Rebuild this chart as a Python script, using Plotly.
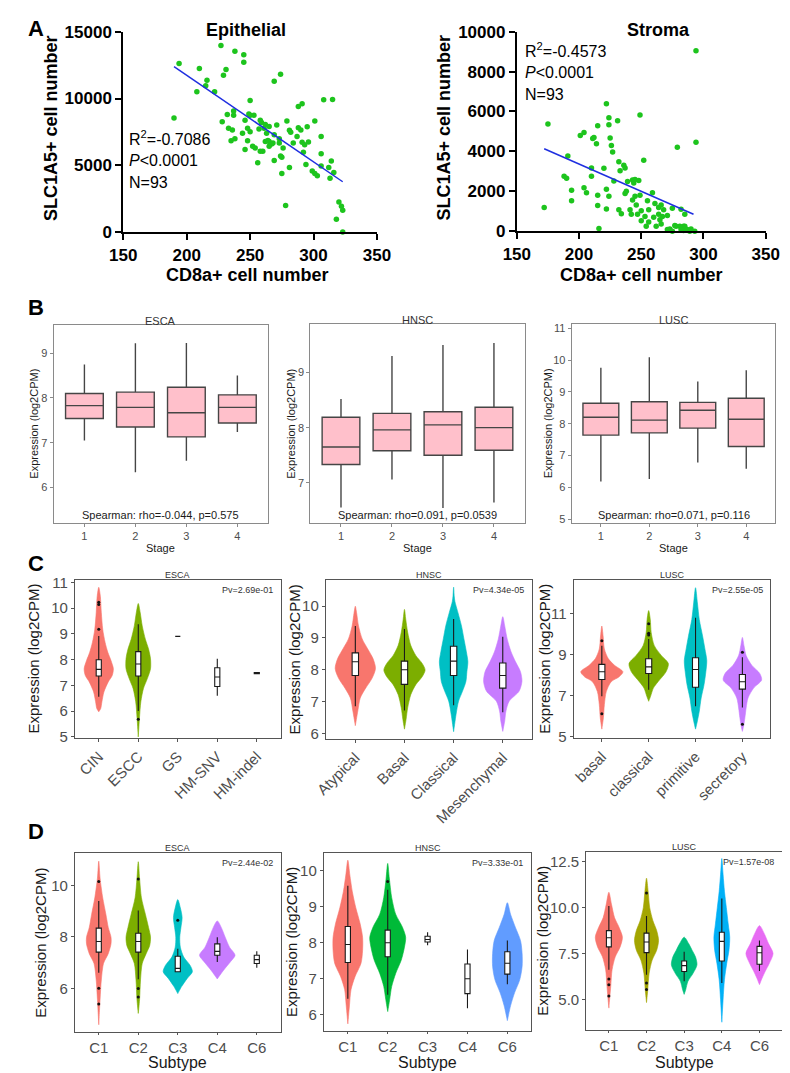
import plotly.graph_objects as go

W, H = 790, 1073
FONT = "Liberation Sans, Arial, sans-serif"

# ---------------- Panel A data ----------------
epi_cd8 = [194, 190, 210, 208, 216, 215, 222, 228, 229, 231, 227, 238, 245, 245, 232, 237, 237, 236, 235, 238,
           244, 246, 248, 249, 250, 250, 252, 254, 257, 258, 259, 261, 262, 263, 256, 262, 265, 264, 265, 267,
           268, 269, 274, 269, 271, 273, 273, 274, 275, 275, 278, 279, 281, 282, 284, 287, 288, 290, 288, 291,
           291, 293, 292, 294, 299, 301, 301, 303, 306, 306, 308, 306, 312, 314, 313, 315, 316, 318, 320, 322,
           323, 323, 246, 250, 260, 269, 276, 296, 253, 265, 258, 233, 295, 248, 281]
epi_slc = [12620, 8550, 12255, 10500, 11370, 10950, 10500, 8260, 11740, 12180, 13970, 13530, 13280, 12720, 8800,
           8750, 9070, 7650, 6840, 6990, 7400, 6180, 7770, 8850, 9850, 8750, 6420, 6300, 7720, 8380, 8210, 7770,
           8060, 7400, 5200, 6790, 6420, 6860, 6790, 6590, 6670, 11300, 11810, 5370, 8010, 6990, 6670, 5690, 5610,
           4390, 1990, 8310, 7620, 7480, 6670, 7160, 7820, 7650, 9410, 9610, 6720, 6540, 5980, 5070, 4580, 8310,
           4390, 4220, 7160, 5860, 9900, 4950, 4830, 5320, 4040, 9930, 4460, 960, 2250, 1940, 1640, 0, 8380, 7520,
           6050, 7280, 6300, 6740, 8750, 7900, 6050, 7770, 7890, 6840, 4830]
epi_fit_cd8 = [190, 323]
epi_fit_slc = [12380, 3770]
epi_yticks = [0, 5000, 10000, 15000]

str_cd8 = [175, 172, 188, 190, 191, 194, 194, 201, 204, 204, 206, 211, 212, 210, 210, 214, 215, 215, 215, 216,
           220, 222, 222, 222, 224, 224, 224, 225, 226, 227, 228, 231, 232, 234, 236, 237, 237, 238, 239, 241,
           242, 243, 244, 245, 245, 246, 247, 248, 249, 249, 250, 250, 253, 252, 256, 255, 256, 259, 260, 261,
           264, 264, 265, 266, 266, 267, 268, 271, 273, 275, 275, 277, 278, 279, 281, 282, 284, 284, 285, 285,
           287, 289, 290, 293, 294, 294, 232, 254, 262, 243, 271, 282, 233]
str_slc = [5377, 1180, 2750, 2650, 3770, 2050, 1520, 4790, 4950, 2180, 1930, 4640, 4700, 3160, 2750, 4380, 5280,
           1800, 1280, 130, 3150, 6390, 2100, 1110, 5690, 5330, 1750, 4670, 4300, 3970, 2510, 5540, 3480, 870,
           3310, 3160, 1890, 2000, 2490, 1070, 850, 2570, 2410, 2590, 1750, 1310, 850, 2540, 5820, 1800, 1020, 520,
           740, 3560, 460, 1520, 1070, 1930, 700, 1390, 850, 1180, 570, 360, 1310, 740, 1070, 790, 110, 0, 1150,
           280, 250, 4210, 250, 1100, 250, 30, 250, 850, 80, 0, 110, 0, 9050, 4460, 1070, 250, 250, 1560, 80, 80,
           3030]
str_fit_cd8 = [172, 292]
str_fit_slc = [4130, 850]
str_yticks = [0, 2000, 4000, 6000, 8000, 10000]
cd8_ticks = [150, 200, 250, 300, 350]

# ---------------- Panel B data (stage box plots) ----------------
stages = [1, 2, 3, 4]
B_ESCA = dict(low=[7.05, 6.34, 6.60, 7.24], q1=[7.54, 7.35, 7.13, 7.44], med=[7.83, 7.79, 7.67, 7.79],
              q3=[8.10, 8.13, 8.24, 8.07], high=[8.75, 9.22, 9.23, 8.50])
B_HNSC = dict(low=[6.55, 7.06, 6.54, 6.64], q1=[7.33, 7.58, 7.50, 7.59], med=[7.65, 7.96, 8.05, 8.00],
              q3=[8.19, 8.26, 8.29, 8.37], high=[8.52, 9.30, 9.50, 9.54])
B_LUSC = dict(low=[6.18, 6.26, 6.78, 6.58], q1=[7.64, 7.71, 7.86, 7.28], med=[8.20, 8.11, 8.42, 8.14],
              q3=[8.64, 8.69, 8.67, 8.80], high=[9.76, 10.09, 9.33, 9.68])
B_text = ["Spearman: rho=-0.044, p=0.575", "Spearman: rho=0.091, p=0.0539", "Spearman: rho=0.071, p=0.116"]

# ---------------- Panel C data (molecular subtypes) ----------------
C_ESCA_groups = ["CIN", "ESCC", "GS", "HM-SNV", "HM-indel"]
C_ESCA_box = dict(low=[6.55, 6.00, 8.90, 6.59, 7.44], q1=[7.36, 7.36, 8.90, 6.95, 7.45],
                  med=[7.62, 7.83, 8.90, 7.32, 7.47], q3=[7.99, 8.31, 8.90, 7.68, 7.50],
                  high=[8.92, 9.37, 8.90, 8.03, 7.50])
C_ESCA_violin = {
    "CIN": ([10.81, 10.46, 9.82, 9.18, 8.67, 8.28, 7.96, 7.64, 7.38, 7.13, 6.74, 6.36, 6.10, 5.97],
            [0, .04, .065, .10, .16, .23, .31, .37, .34, .24, .13, .08, .05, 0]),
    "ESCC": ([10.18, 9.82, 9.31, 8.79, 8.41, 8.03, 7.64, 7.26, 6.87, 6.36, 5.72, 4.99],
             [0, .05, .10, .18, .26, .31, .31, .23, .13, .065, .03, 0]),
}
C_ESCA_out = {"CIN": [9.18, 10.14, 10.23], "ESCC": [5.68]}

C_HNSC_groups = ["Atypical", "Basal", "Classical", "Mesenchymal"]
C_HNSC_box = dict(low=[6.85, 6.72, 6.88, 6.66], q1=[7.82, 7.54, 7.82, 7.42], med=[8.25, 8.00, 8.27, 7.82],
                  q3=[8.53, 8.27, 8.74, 8.21], high=[9.38, 9.28, 9.60, 9.04])
C_HNSC_violin = {
    "Atypical": ([10.0, 9.79, 9.38, 8.97, 8.66, 8.35, 8.04, 7.73, 7.42, 7.11, 6.70, 6.24],
                 [0, .026, .065, .14, .25, .36, .41, .34, .21, .10, .05, 0]),
    "Basal": ([9.90, 9.59, 9.18, 8.76, 8.45, 8.20, 7.99, 7.78, 7.53, 7.22, 6.80, 6.44, 6.13],
              [0, .026, .065, .13, .23, .36, .42, .36, .23, .13, .065, .033, 0]),
    "Classical": ([10.60, 10.31, 10.15, 9.79, 9.38, 8.97, 8.56, 8.25, 7.94, 7.63, 7.32, 7.01, 6.60, 6.05],
                  [0, .013, .026, .09, .16, .21, .26, .29, .27, .25, .18, .10, .05, 0]),
    "Mesenchymal": ([9.67, 9.38, 8.97, 8.56, 8.25, 7.94, 7.63, 7.32, 7.01, 6.70, 6.39, 6.06],
                    [0, .04, .09, .17, .26, .36, .39, .33, .13, .065, .04, 0]),
}
C_HNSC_out = {}

C_LUSC_groups = ["basal", "classical", "primitive", "secretory"]
C_LUSC_box = dict(low=[6.97, 7.29, 6.49, 6.43], q1=[7.79, 8.08, 7.41, 7.32], med=[8.16, 8.40, 8.27, 7.68],
                  q3=[8.52, 8.79, 8.84, 8.03], high=[9.43, 9.75, 10.78, 8.87])
C_LUSC_violin = {
    "basal": ([10.38, 9.90, 9.27, 8.79, 8.48, 8.16, 7.92, 7.68, 7.20, 6.57, 5.94, 5.38],
              [0, .027, .054, .14, .27, .45, .37, .20, .095, .054, .034, 0]),
    "classical": ([11.13, 10.70, 10.06, 9.43, 8.95, 8.56, 8.16, 7.68, 7.37, 6.97, 6.73],
                  [0, .034, .054, .12, .27, .42, .37, .20, .10, .04, 0]),
    "primitive": ([12.24, 11.50, 10.70, 9.90, 9.27, 8.71, 8.16, 7.52, 6.89, 6.25, 5.78, 5.38],
                  [0, .04, .08, .15, .20, .24, .22, .18, .12, .08, .04, 0]),
    "secretory": ([9.83, 9.43, 8.95, 8.48, 8.08, 7.76, 7.37, 6.89, 6.41, 5.94, 5.54, 5.27],
                  [0, .034, .08, .20, .37, .41, .24, .12, .08, .054, .027, 0]),
}
C_LUSC_out = {"basal": [9.67, 6.13], "classical": [10.49, 10.03, 9.95], "secretory": [9.11, 5.62]}
C_pv = ["Pv=2.69e-01", "Pv=4.34e-05", "Pv=2.55e-05"]

# ---------------- Panel D data (immune subtypes) ----------------
D_groups = ["C1", "C2", "C3", "C4", "C6"]
D_ESCA_box = dict(low=[6.61, 6.36, 6.63, 7.03, 6.80], q1=[7.41, 7.41, 6.65, 7.29, 6.97],
                  med=[7.82, 7.82, 6.78, 7.44, 7.12], q3=[8.34, 8.14, 7.25, 7.73, 7.29],
                  high=[9.39, 9.03, 7.54, 7.99, 7.44])
D_ESCA_violin = {
    "C1": ([10.94, 10.28, 9.52, 8.88, 8.37, 7.99, 7.73, 7.35, 6.97, 6.33, 5.57, 4.59],
           [0, .033, .10, .18, .24, .31, .31, .24, .12, .065, .033, 0]),
    "C2": ([10.92, 10.28, 9.52, 8.88, 8.37, 7.99, 7.67, 7.35, 6.97, 6.33, 5.57, 5.03],
           [0, .033, .08, .18, .26, .31, .29, .20, .10, .057, .033, 0]),
    "C3": ([9.45, 9.13, 8.75, 8.37, 7.99, 7.60, 7.22, 6.90, 6.65, 6.39, 6.08, 5.80],
           [0, .065, .11, .08, .05, .065, .15, .31, .37, .24, .10, 0]),
    "C4": ([8.62, 8.37, 7.99, 7.60, 7.29, 7.03, 6.71, 6.37],
           [0, .10, .20, .31, .45, .33, .16, 0]),
}
D_ESCA_out = {"C1": [10.15, 6.01, 5.40], "C2": [10.25, 6.00, 5.67], "C3": [8.65]}

D_HNSC_box = dict(low=[6.45, 6.56, 7.93, 6.18, 6.85], q1=[7.45, 7.61, 8.02, 6.59, 7.13],
                  med=[7.95, 8.00, 8.09, 7.00, 7.43], q3=[8.45, 8.35, 8.18, 7.41, 7.75],
                  high=[9.58, 9.47, 8.29, 7.81, 8.06])
D_HNSC_violin = {
    "C1": ([10.29, 9.88, 9.43, 8.97, 8.52, 8.15, 7.79, 7.43, 7.06, 6.70, 6.25, 5.75],
           [0, .05, .11, .20, .31, .37, .37, .33, .18, .08, .04, 0]),
    "C2": ([10.20, 9.79, 9.25, 8.79, 8.43, 8.15, 7.88, 7.52, 7.15, 6.79, 6.43, 6.09],
           [0, .04, .10, .20, .37, .45, .42, .34, .20, .10, .05, 0]),
    "C6": ([9.11, 8.79, 8.43, 8.06, 7.70, 7.34, 6.97, 6.61, 6.25, 5.84],
           [0, .08, .20, .33, .37, .37, .31, .18, .08, 0]),
}
D_HNSC_out = {"C2": [9.70]}

D_LUSC_box = dict(low=[6.61, 6.34, 5.98, 5.89, 6.55], q1=[7.86, 7.55, 6.52, 7.09, 6.91],
                  med=[8.36, 8.13, 6.84, 8.16, 7.54], q3=[8.75, 8.61, 7.09, 8.66, 7.89],
                  high=[10.09, 9.55, 7.59, 10.50, 8.21])
D_LUSC_violin = {
    "C1": ([10.84, 10.18, 9.46, 8.93, 8.39, 7.86, 7.32, 6.61, 5.71, 4.52],
           [0, .07, .15, .27, .36, .30, .17, .085, .05, 0]),
    "C2": ([11.61, 10.89, 10.0, 9.29, 8.75, 8.21, 7.68, 7.14, 6.43, 5.54, 4.82],
           [0, .043, .085, .17, .27, .32, .27, .15, .07, .034, 0]),
    "C3": ([8.39, 8.04, 7.68, 7.32, 6.88, 6.43, 5.98, 5.54, 5.27],
           [0, .12, .21, .30, .34, .24, .10, .043, 0]),
    "C4": ([12.68, 11.79, 10.89, 10.0, 9.11, 8.39, 7.68, 6.96, 6.07, 5.0, 3.75],
           [0, .034, .07, .12, .17, .21, .19, .13, .07, .034, 0]),
    "C6": ([9.02, 8.57, 8.04, 7.50, 6.96, 6.52, 6.16, 5.80],
           [0, .13, .24, .36, .26, .15, .07, 0]),
}
D_LUSC_out = {"C1": [6.11, 5.80, 5.18], "C2": [10.80, 5.89, 5.54]}
D_pv = ["Pv=2.44e-02", "Pv=3.33e-01", "Pv=1.57e-08"]

HUE4 = ["#F8766D", "#7CAE00", "#00BFC4", "#C77CFF"]
HUE3 = ["#F8766D", "#00BA38", "#619CFF"]
HUE5 = ["#F8766D", "#A3A500", "#00BF7D", "#00B0F6", "#E76BF3"]

# ---------------- helpers ----------------
fig = go.Figure()
layout = {}
annotations = []


def ids(i):
    return ("x" if i == 1 else f"x{i}", "y" if i == 1 else f"y{i}")


def sfx(i):
    return "" if i == 1 else str(i)


def set_axes(i, x0, x1, y0, y1, xa, ya):
    xid, yid = ids(i)
    layout["xaxis" + sfx(i)] = dict(domain=[x0 / W, x1 / W], anchor=yid, showgrid=False, zeroline=False, **xa)
    layout["yaxis" + sfx(i)] = dict(domain=[1 - y1 / H, 1 - y0 / H], anchor=xid, showgrid=False, zeroline=False,
                                    **ya)


def set_overlay(j, base, xrange, yrange):
    bx, by = ids(base)
    xid, yid = ids(j)
    layout["xaxis" + sfx(j)] = dict(overlaying=bx, anchor=yid, range=xrange, visible=False, showgrid=False,
                                    zeroline=False)
    layout["yaxis" + sfx(j)] = dict(overlaying=by, anchor=xid, range=yrange, visible=False, showgrid=False,
                                    zeroline=False)


def ann(text, x, y, size, xanchor="center", yanchor="middle", angle=0, weight="normal", color="black"):
    annotations.append(dict(text=text, x=x / W, y=1 - y / H, xref="paper", yref="paper", showarrow=False,
                            xanchor=xanchor, yanchor=yanchor, textangle=angle,
                            font=dict(size=size, family=FONT, color=color, weight=weight)))


# ---------------- Panel A ----------------
def a_axes(i, x0, x1, y0, y1, yrange, yticks):
    tf = dict(size=17, family=FONT, color="black", weight="bold")
    common = dict(showline=True, linecolor="black", linewidth=2, ticks="outside", ticklen=6, tickwidth=2,
                  tickcolor="black", tickfont=tf)
    set_axes(i, x0, x1, y0, y1,
             dict(range=[150, 350], tickvals=cd8_ticks, ticktext=[str(v) for v in cd8_ticks], **common),
             dict(range=yrange, tickvals=yticks, ticktext=[str(v) for v in yticks], **common))


a_axes(1, 105, 368, 15, 219, [0, 15000], epi_yticks)
a_axes(2, 513, 771, 15, 218, [0, 10000], str_yticks)

for i, (xs, ys, fx, fy) in enumerate([(epi_cd8, epi_slc, epi_fit_cd8, epi_fit_slc),
                                      (str_cd8, str_slc, str_fit_cd8, str_fit_slc)], start=1):
    xid, yid = ids(i)
    fig.add_trace(go.Scatter(x=xs, y=ys, mode="markers", xaxis=xid, yaxis=yid, cliponaxis=False,
                             marker=dict(color="#1DC41D", size=5.5), showlegend=False, hoverinfo="skip"))
    fig.add_trace(go.Scatter(x=fx, y=fy, mode="lines", xaxis=xid, yaxis=yid,
                             line=dict(color="#1F2FE0", width=1.5), showlegend=False))

ann("Epithelial", 232, 13, 18, weight="bold")
ann("Stroma", 660, 13, 18, weight="bold")
ann("SLC1A5+ cell number", 30, 113, 18, angle=-90, weight="bold")
ann("SLC1A5+ cell number", 437, 113, 18, angle=-90, weight="bold")
ann("CD8a+ cell number", 234, 263, 18, weight="bold")
ann("CD8a+ cell number", 642, 263, 18, weight="bold")
for x, ys, lines in [(109, [123, 146, 168], ["R<sup>2</sup>=-0.7086", "<i>P</i>&lt;0.0001", "N=93"]),
                     (519, [34, 57, 79], ["R<sup>2</sup>=-0.4573", "<i>P</i>&lt;0.0001", "N=93"])]:
    for y, t in zip(ys, lines):
        ann(t, x, y, 16, xanchor="left")
ann("A", 4, 12, 22, xanchor="left", weight="bold")

# ---------------- Panel B ----------------
GRAY_T = "#4d4d4d"
b_specs = [
    (3, 33, 255, 314, 515, [5.21, 9.62], [6, 7, 8, 9], B_ESCA, "ESCA", B_text[0], 13),
    (4, 299, 521, 313, 515, [6.27, 9.875], [7, 8, 9], B_HNSC, "HNSC", B_text[1], 279),
    (5, 570, 781, 313, 515, [4.88, 11.12], [5, 6, 7, 8, 9, 10, 11], B_LUSC, "LUSC", B_text[2], 545),
]
for i, x0, x1, y0, y1, yr, yt, d, title, txt, ytx in b_specs:
    frame = dict(showline=True, mirror=True, linecolor="#8a8a8a", linewidth=1.3, ticks="outside", ticklen=3,
                 tickcolor="#8a8a8a", tickfont=dict(size=11, family=FONT, color=GRAY_T))
    set_axes(i, x0, x1, y0, y1, dict(range=[0.4, 4.6], tickvals=stages, **frame),
             dict(range=yr, tickvals=yt, **frame))
    xid, yid = ids(i)
    fig.add_trace(go.Box(x=stages, q1=d["q1"], median=d["med"], q3=d["q3"], lowerfence=d["low"],
                         upperfence=d["high"], orientation="v", width=0.74, whiskerwidth=0, boxpoints=False,
                         fillcolor="#FFC0CB", line=dict(color="#454545", width=1.4), xaxis=xid, yaxis=yid,
                         showlegend=False, hoverinfo="skip"))
    ann(title, (x0 + x1) / 2, y0 - 5, 11, color="#333333")
    ann(txt, (x0 + x1) / 2, y1 - 8, 11, color="#1a1a1a")
    ann("Stage", (x0 + x1) / 2, 541, 11, color="#1a1a1a")
    ann("Expression (log2CPM)", ytx, (y0 + y1) / 2, 11, angle=-90, color="#1a1a1a")
ann("B", 4, 296, 22, xanchor="left", weight="bold")


# ---------------- Panels C and D (violins) ----------------
def violin_panel(i, x0, x1, y0, y1, yr, yt, ytt, groups, box, violins, outs, colors, title, pv, ytx,
                 tickangle, fsize, xtitle=None):
    frame = dict(showline=True, mirror=True, linecolor="#555555", linewidth=1.2, ticks="outside",
                 tickcolor="#555555", tickfont=dict(size=fsize, family=FONT, color=GRAY_T))
    pos = list(range(1, len(groups) + 1))
    xr = [0.4, len(groups) + 0.6]
    set_axes(i, x0, x1, y0, y1,
             dict(range=xr, tickvals=pos, ticktext=groups, tickangle=tickangle,
                  ticklen=2 if xtitle else 3, **frame),
             dict(range=yr, tickvals=yt, ticktext=ytt if ytt else [str(v) for v in yt], ticklen=3, **frame))
    j = i + 6
    set_overlay(j, i, xr, yr)
    xid, yid = ids(i)
    oxid, oyid = ids(j)
    ci = 0
    for p, g in zip(pos, groups):
        if g in violins:
            vy, vw = violins[g]
            xs = [p + w for w in vw] + [p - w for w in reversed(vw)]
            ys = list(vy) + list(reversed(vy))
            col = colors[ci]
            ci += 1
            fig.add_trace(go.Scatter(x=xs, y=ys, mode="lines", fill="toself", fillcolor=col,
                                     line=dict(color=col, width=0.6, shape="spline", smoothing=0.8),
                                     xaxis=xid, yaxis=yid, showlegend=False, hoverinfo="skip"))
    fig.add_trace(go.Box(x=pos, q1=box["q1"], median=box["med"], q3=box["q3"], lowerfence=box["low"],
                         upperfence=box["high"], orientation="v", width=0.13, whiskerwidth=0, boxpoints=False,
                         fillcolor="white", line=dict(color="#1a1a1a", width=1.1), xaxis=oxid, yaxis=oyid,
                         showlegend=False, hoverinfo="skip"))
    ox, oy = [], []
    for p, g in zip(pos, groups):
        for v in outs.get(g, []):
            ox.append(p)
            oy.append(v)
    if ox:
        fig.add_trace(go.Scatter(x=ox, y=oy, mode="markers", marker=dict(color="#111111", size=3),
                                 xaxis=oxid, yaxis=oyid, showlegend=False, hoverinfo="skip"))
    ann(title, (x0 + x1) / 2, y0 - 5, 9, color="#333333")
    ann(pv, x1 - 6, y0 + 10, 9, xanchor="right", color="#333333")
    ann("Expression (log2CPM)", ytx, (y0 + y1) / 2, 15, angle=-90, color="#1a1a1a")
    if xtitle:
        ann(xtitle, (x0 + x1) / 2, 1064, 16, color="#1a1a1a")


violin_panel(6, 55, 268, 573, 734, [4.95, 11.1], [5, 6, 7, 8, 9, 10, 11], None, C_ESCA_groups, C_ESCA_box,
             C_ESCA_violin, C_ESCA_out, HUE4, "ESCA", C_pv[0], 12, -45, 15)
violin_panel(7, 315, 529, 573, 735, [5.82, 10.83], [6, 7, 8, 9, 10], None, C_HNSC_groups, C_HNSC_box,
             C_HNSC_violin, C_HNSC_out, HUE4, "HNSC", C_pv[1], 282, -45, 15)
violin_panel(8, 572, 776, 573, 734, [4.95, 12.62], [5, 7, 9, 11], None, C_LUSC_groups, C_LUSC_box,
             C_LUSC_violin, C_LUSC_out, HUE4, "LUSC", C_pv[2], 542, -45, 15)
ann("C", 4, 556, 22, xanchor="left", weight="bold")

violin_panel(9, 55, 268, 851, 1033, [4.32, 11.26], [6, 8, 10], None, D_groups, D_ESCA_box,
             D_ESCA_violin, D_ESCA_out, HUE4, "ESCA", D_pv[0], 19, 0, 15, "Subtype")
violin_panel(10, 313, 528, 851, 1032, [5.56, 10.49], [6, 7, 8, 9, 10], None, D_groups, D_HNSC_box,
             D_HNSC_violin, D_HNSC_out, HUE3, "HNSC", D_pv[1], 280, 0, 15, "Subtype")
violin_panel(11, 585, 788, 850, 1031, [3.34, 13.04], [5, 7.5, 10, 12.5], ["5.0", "7.5", "10.0", "12.5"],
             D_groups, D_LUSC_box, D_LUSC_violin, D_LUSC_out, HUE5, "LUSC", D_pv[2], 540, 0, 15, "Subtype")
ann("D", 4, 829, 22, xanchor="left", weight="bold")

layout.update(dict(width=W, height=H, margin=dict(l=0, r=0, t=0, b=0), paper_bgcolor="white",
                   plot_bgcolor="white", showlegend=False, annotations=annotations,
                   font=dict(family=FONT)))
fig.update_layout(**layout)
fig.write_html("out.html")
